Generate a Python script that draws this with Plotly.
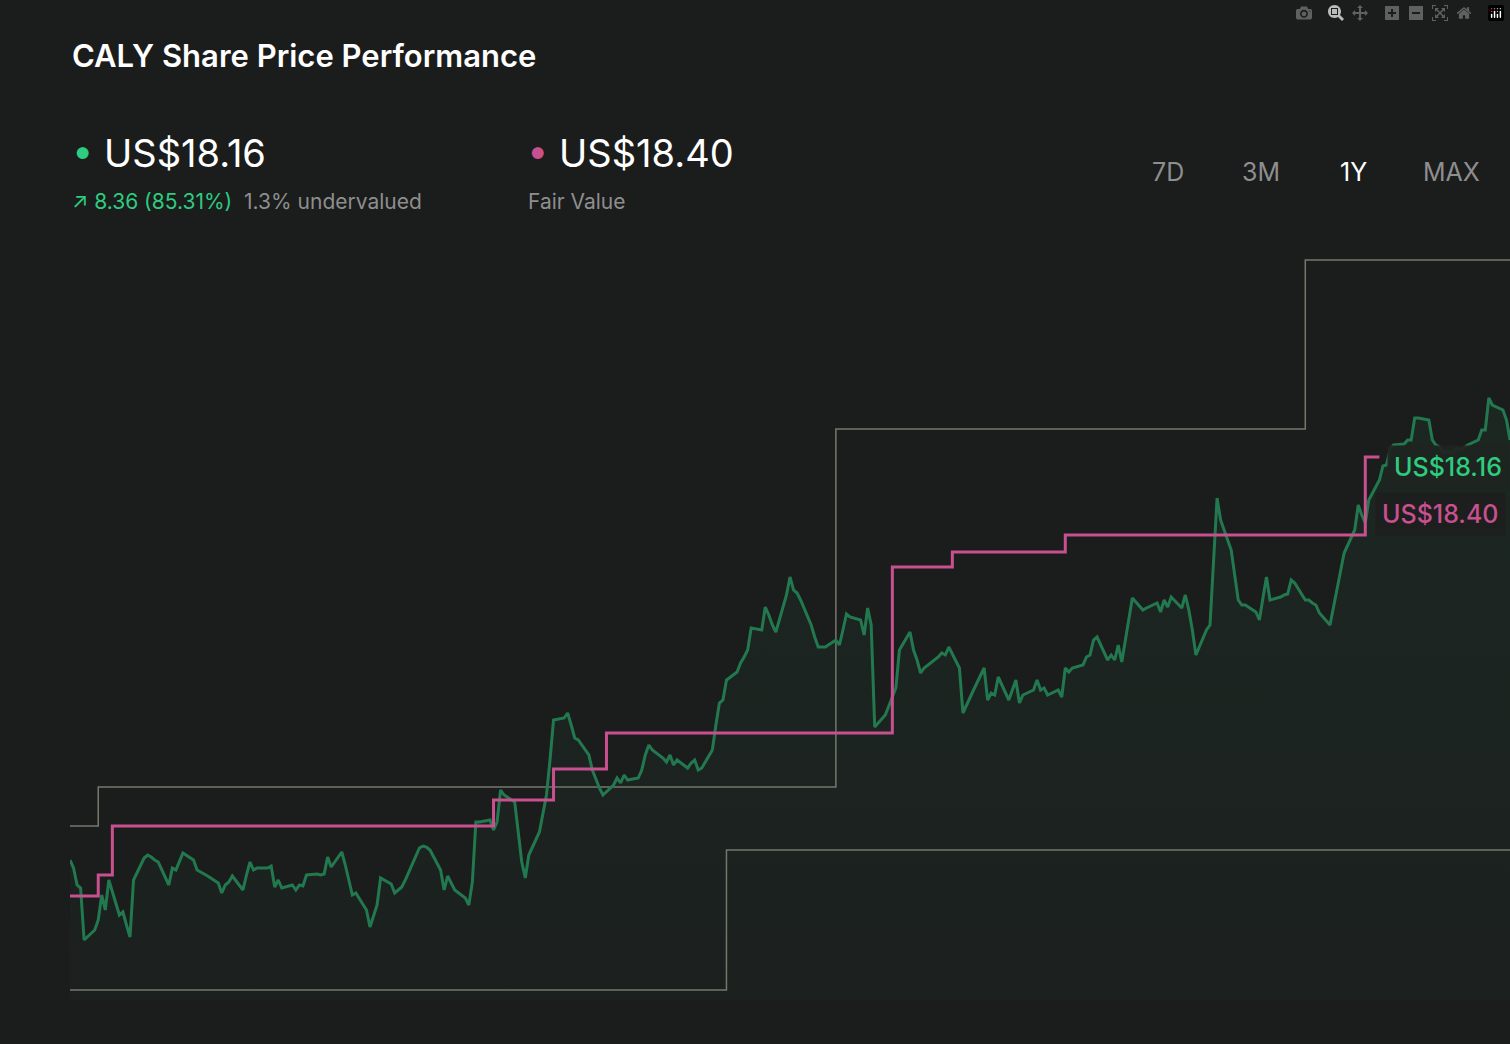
import pandas as pd
import plotly.graph_objects as go

# share price, one value per trading day
price = [9.80, 9.64, 9.30, 9.24, 8.20, 8.40, 8.60, 9.10, 8.80, 9.40, 8.70, 8.76, 8.50, 8.26, 9.40, 9.84, 9.90, 9.86, 9.80, 9.76,
         9.30, 9.64, 9.60, 9.76, 9.94, 9.80, 9.60, 9.56, 9.52, 9.48, 9.34, 9.14, 9.30, 9.36, 9.48, 9.20, 9.50, 9.76, 9.60, 9.64,
         9.64, 9.68, 9.26, 9.40, 9.24, 9.30, 9.20, 9.30, 9.28, 9.50, 9.52, 9.50, 9.52, 9.86, 9.66, 9.96, 9.70, 9.40, 9.10, 9.14,
         8.80, 8.46, 8.70, 8.90, 9.44, 9.32, 9.14, 9.20, 9.26, 9.40, 9.90, 10.04, 10.08, 10.06, 10.00, 9.60, 9.20, 9.48, 9.34, 9.20,
         9.04, 8.90, 9.36, 10.56, 10.56, 10.60, 10.40, 10.56, 11.20, 11.10, 10.96, 10.40, 9.76, 9.44, 9.90, 10.36, 10.76, 11.10, 11.80, 12.60,
         12.64, 12.74, 12.50, 12.24, 12.20, 11.90, 11.60, 11.40, 11.24, 11.10, 11.30, 11.44, 11.34, 11.50, 11.40, 11.44, 11.60, 11.90, 12.10, 12.00,
         11.84, 11.76, 11.90, 11.70, 11.80, 11.64, 11.74, 11.80, 11.60, 11.64, 12.00, 12.50, 12.94, 13.00, 13.40, 13.56, 13.74, 13.86, 14.00, 14.44,
         14.40, 14.86, 14.70, 14.50, 14.36, 15.10, 15.46, 15.20, 15.14, 15.00, 14.50, 14.26, 14.06, 14.06, 14.06, 14.20, 14.10, 14.40, 14.72, 14.66,
         14.60, 14.30, 14.84, 14.50, 12.46, 12.70, 12.90, 13.06, 13.24, 14.00, 14.36, 14.00, 13.80, 13.54, 13.64, 13.80, 13.86, 13.94, 13.90, 14.06,
         13.64, 12.74, 12.90, 13.06, 13.20, 13.64, 13.00, 13.14, 13.10, 13.46, 13.00, 13.20, 13.40, 12.94, 13.10, 13.20, 13.40, 13.20, 13.24, 13.10,
         13.20, 13.06, 13.64, 13.56, 13.64, 13.70, 13.86, 13.90, 14.20, 14.26, 13.80, 13.90, 13.80, 14.10, 13.76, 15.04, 14.96, 14.90, 14.80, 14.84,
         14.94, 14.76, 15.00, 14.86, 15.06, 14.84, 15.10, 14.80, 14.40, 13.90, 14.40, 14.50, 15.80, 17.04, 16.60, 16.00, 15.50, 15.00, 14.90, 14.90,
         14.76, 14.60, 15.04, 15.46, 15.00, 15.06, 15.10, 15.12, 15.40, 15.34, 15.00, 15.00, 14.94, 14.90, 14.74, 14.50, 14.86, 15.20, 15.56, 15.94,
         16.40, 16.90, 16.70, 16.54, 17.00, 17.40, 17.68, 17.70, 18.00, 18.10, 18.12, 18.20, 18.20, 18.64, 18.64, 18.60, 18.20, 18.10, 18.06, 17.96,
         17.96, 18.04, 18.00, 18.04, 18.10, 18.20, 18.40, 18.40, 19.04, 18.90, 18.80, 18.60, 18.20]
dates = pd.bdate_range("2024-02-05", periods=len(price))

# fair value steps
fv_dates = ["2024-02-05", "2024-02-13", "2024-02-17", "2024-06-04", "2024-06-21", "2024-07-06",
            "2024-09-25", "2024-10-12", "2024-11-13", "2025-02-06", "2025-02-10"]
fv_values = [9.08, 9.50, 10.48, 11.00, 11.62, 12.34, 15.66, 15.96, 16.30, 17.86, 17.86]

# analyst range (high / low)
hi_dates = ["2024-02-05", "2024-02-13", "2024-09-09", "2025-01-20", str(dates[-1].date())]
hi_values = [10.48, 11.26, 18.42, 21.80, 21.80]
lo_dates = ["2024-02-05", "2024-08-09", str(dates[-1].date())]
lo_values = [7.20, 10.00, 10.00]

BG = "#1b1c1c"
GREEN = "#2ecc7f"
PINK = "#c8508f"
FONT = "Inter"

fig = go.Figure()
fig.add_trace(go.Scatter(x=hi_dates, y=hi_values, mode="lines", line=dict(color="#77786d", width=1.5, shape="hv"),
                         hoverinfo="skip"))
fig.add_trace(go.Scatter(x=lo_dates, y=lo_values, mode="lines", line=dict(color="#77786d", width=1.5, shape="hv"),
                         hoverinfo="skip"))
fig.add_trace(go.Scatter(x=dates, y=price, mode="lines", line=dict(color="#23794f", width=3),
                         fill="tozeroy",
                         fillgradient=dict(type="vertical",
                                           colorscale=[[0, "rgba(35,121,79,0.0)"], [1, "rgba(35,121,79,0.12)"]])))
fig.add_trace(go.Scatter(x=fv_dates, y=fv_values, mode="lines", line=dict(color=PINK, width=3, shape="hv")))

fig.update_xaxes(visible=False, range=[dates[0], dates[-1]])
fig.update_yaxes(visible=False, range=[7.0, 22.2])

ann = [
    dict(x=0, y=56, text="CALY Share Price Performance", size=31, color="white", weight=600),
    dict(x=0, y=153, text="<span style='color:%s'>•</span> US$18.16" % GREEN, size=38, color="white", weight=400),
    dict(x=0, y=202, text="<span style='color:%s'>↗ 8.36 (85.31%%)</span>  <span style='color:#8e8e8e'>1.3%% undervalued</span>" % GREEN,
         size=21, color=GREEN, weight=400),
    dict(x=455, y=153, text="<span style='color:%s'>•</span> US$18.40" % PINK, size=38, color="white", weight=400),
    dict(x=456, y=202, text="Fair Value", size=21, color="#8e8e8e", weight=400),
    dict(x=1080, y=172, text="7D", size=25, color="#8e8e8e", weight=400),
    dict(x=1170, y=172, text="3M", size=25, color="#8e8e8e", weight=400),
    dict(x=1268, y=172, text="1Y", size=25, color="white", weight=400),
    dict(x=1351, y=172, text="MAX", size=25, color="#8e8e8e", weight=400),
]
annotations = []
for a in ann:
    annotations.append(dict(xref="paper", yref="paper", x=a["x"] / 1440, y=(1000 - a["y"]) / 760,
                            xanchor="left", yanchor="middle", showarrow=False, text=a["text"],
                            font=dict(family=FONT, size=a["size"], color=a["color"], weight=a["weight"])))
annotations.append(dict(xref="paper", yref="paper", x=1317 / 1440, y=(1000 - 467) / 760, xanchor="left",
                        yanchor="middle", showarrow=False, text="US$18.16", bgcolor="rgba(30,36,32,0.92)",
                        borderpad=6, font=dict(family=FONT, size=25, color=GREEN, weight=500)))
annotations.append(dict(xref="paper", yref="paper", x=1305 / 1440, y=(1000 - 514) / 760, xanchor="left",
                        yanchor="middle", showarrow=False, text="US$18.40", bgcolor="rgba(28,30,30,0.92)",
                        borderpad=6, font=dict(family=FONT, size=25, color=PINK, weight=500)))

fig.update_layout(width=1510, height=1044, paper_bgcolor=BG, plot_bgcolor=BG, showlegend=False,
                  margin=dict(l=70, r=0, t=240, b=44), annotations=annotations)

fig.write_html("out.html", post_script="document.body.style.margin='0';document.body.style.background='%s';" % BG)
